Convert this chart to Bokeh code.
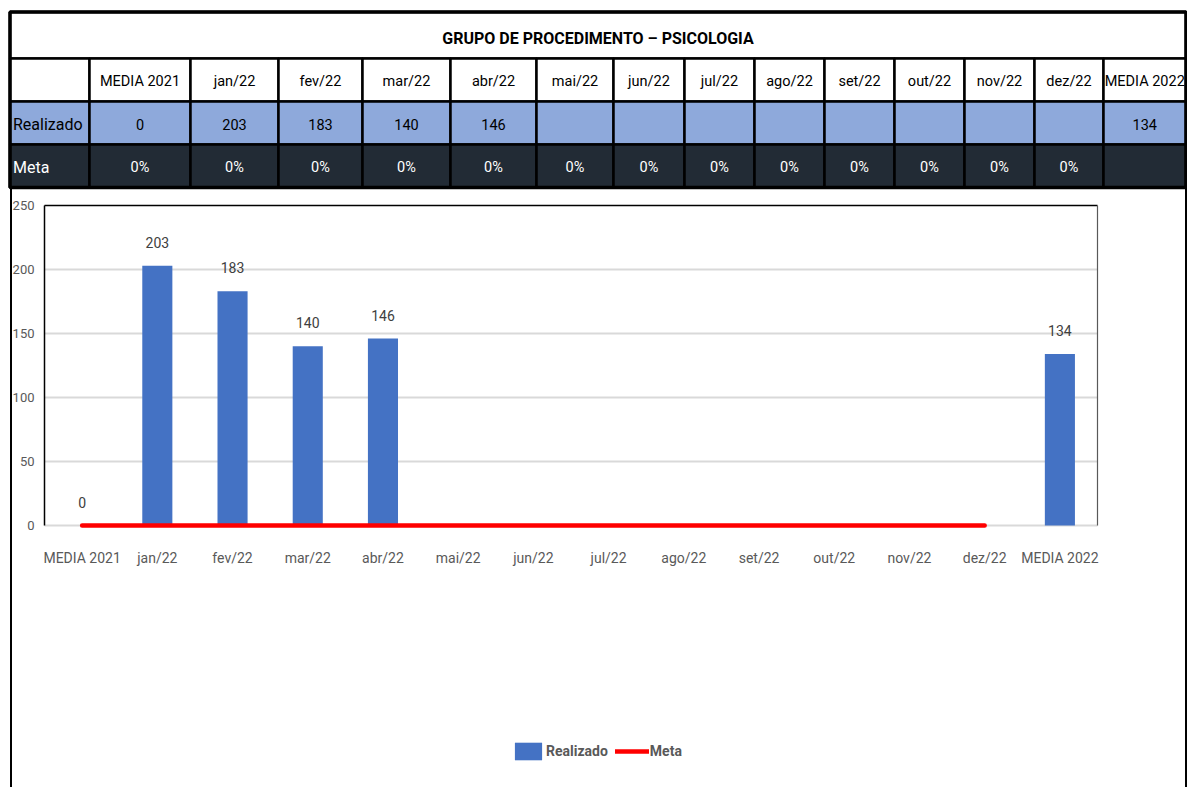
import numpy as np
from bokeh.plotting import figure
from bokeh.models import (ColumnDataSource, Range1d, FixedTicker, Legend, LegendItem, LinearAxis)
from bokeh.core.properties import value
from bokeh.embed import file_html
from bokeh.resources import INLINE

# ---------------- data ----------------
title_text = "GRUPO DE PROCEDIMENTO – PSICOLOGIA"
categories = ["MEDIA 2021", "jan/22", "fev/22", "mar/22", "abr/22", "mai/22", "jun/22",
              "jul/22", "ago/22", "set/22", "out/22", "nov/22", "dez/22", "MEDIA 2022"]
realizado = [0, 203, 183, 140, 146, None, None, None, None, None, None, None, None, 134]
meta = [0, 0, 0, 0, 0, 0, 0, 0, 0, 0, 0, 0, 0, None]
y_ticks = [0, 50, 100, 150, 200, 250]
series_names = ["Realizado", "Meta"]

# ---------------- layout / style ----------------
FONT = "Roboto"
W, H = 1187, 787          # canvas == reference pixels
BLUE = "#4472C4"
ROW_BLUE = "#8EA9DB"
ROW_DARK = "#222B35"
GREY_TXT = "#595959"

# chart plot-area in reference pixels
PA_LEFT, PA_RIGHT, PA_TOP, PA_BOTTOM = 44, 1097, 205, 525

n = len(categories)
xs = list(range(n))                     # category positions
ymax = y_ticks[-1]
cat_w = (PA_RIGHT - PA_LEFT) / n
x_start = -0.5 - PA_LEFT / cat_w
x_end = (n - 0.5) + (W - PA_RIGHT) / cat_w
ppu = (PA_BOTTOM - PA_TOP) / ymax
y_start = -(H - PA_BOTTOM) / ppu
y_end = ymax + PA_TOP / ppu

p = figure(width=W, height=H, x_range=Range1d(x_start, x_end), y_range=Range1d(y_start, y_end),
           output_backend="svg", toolbar_location=None, min_border=0,
           x_axis_location=None, y_axis_location=None, outline_line_color=None, title=None)
p.grid.visible = False
p.background_fill_color = "white"
p.border_fill_color = "white"
p.extra_x_ranges = {"px": Range1d(0, W)}
p.extra_y_ranges = {"py": Range1d(H, 0)}
PX = dict(x_range_name="px", y_range_name="py")

# ---------------- table ----------------
col_edges = [9.5, 89, 190, 278, 362, 450, 536, 613, 684, 754, 824, 894, 964, 1034, 1103, 1185.5]
row_edges = [11.5, 58, 101, 144, 187]

lefts = col_edges[:-1]
rights = col_edges[1:]
centers = [(a + b) / 2 for a, b in zip(lefts, rights)]
ncol = len(lefts)

header_txt = [""] + categories
real_txt = [series_names[0]] + ["" if v is None else str(v) for v in realizado]
meta_txt = [series_names[1]] + ["" if v is None else f"{v:.0%}" for v in meta]
rows = [(header_txt, "white", "black"), (real_txt, ROW_BLUE, "black"), (meta_txt, ROW_DARK, "white")]

TFS = "14.5px"
p.quad(left=[col_edges[0]], right=[col_edges[-1]], top=[row_edges[0]], bottom=[row_edges[1]],
       fill_color="white", line_color="black", line_width=2.5, **PX)
p.text(x=[(col_edges[0] + col_edges[-1]) / 2], y=[(row_edges[0] + row_edges[1]) / 2 + 3],
       text=[title_text], text_align="center", text_baseline="middle",
       text_font=value(FONT), text_font_style="bold", text_font_size="16px", text_color="black", **PX)

for r, (texts, fill, tcolor) in enumerate(rows):
    top = row_edges[r + 1]
    bot = row_edges[r + 2]
    p.quad(left=lefts, right=rights, top=[top] * ncol, bottom=[bot] * ncol,
           fill_color=fill, line_color="black", line_width=2.5, **PX)
    ymid = (top + bot) / 2 + 1
    p.text(x=[lefts[0] + 3], y=[ymid], text=[texts[0]], text_align="left", text_baseline="middle",
           text_font=value(FONT), text_font_size="16px", text_color=tcolor, **PX)
    p.text(x=centers[1:], y=[ymid] * (ncol - 1), text=texts[1:], text_align="center",
           text_baseline="middle", text_font=value(FONT), text_font_size=TFS, text_color=tcolor, **PX)

p.quad(left=[col_edges[0]], right=[col_edges[-1]], top=[row_edges[0]], bottom=[row_edges[-1]],
       fill_color=None, line_color="black", line_width=3.5, **PX)

# outer border of the chart area (below the table)
p.segment(x0=[10.5, 1185.5], x1=[10.5, 1185.5], y0=[row_edges[-1], row_edges[-1]], y1=[H, H],
          line_color="black", line_width=2, **PX)

# ---------------- chart ----------------
real_vals = [np.nan if v is None else v for v in realizado]
meta_vals = [np.nan if v is None else v for v in meta]
src = ColumnDataSource(dict(x=xs, real=real_vals, meta=meta_vals))

lab_x = [x for x, v in zip(xs, realizado) if v is not None]
lab_v = [v for v in realizado if v is not None]
lab_src = ColumnDataSource(dict(x=lab_x, y=lab_v, txt=[str(v) for v in lab_v]))

# gridlines and plot-area border
grid_y = y_ticks[:-1]
p.segment(x0=[-0.5] * len(grid_y), x1=[n - 0.5] * len(grid_y), y0=grid_y, y1=grid_y,
          line_color="#D9D9D9", line_width=2)
p.segment(x0=[-0.5], x1=[n - 0.5], y0=[ymax], y1=[ymax], line_color="black", line_width=1.5)
p.segment(x0=[n - 0.5], x1=[n - 0.5], y0=[0], y1=[ymax], line_color="#595959", line_width=1.2)

bars = p.vbar(x="x", top="real", bottom=0, width=0.4, source=src, fill_color=BLUE, line_color=None)
line = p.line(x="x", y="meta", source=src, line_color="#FF0000", line_width=4.5, line_cap="round")
p.text(x="x", y="y", text="txt", source=lab_src, text_align="center", text_baseline="bottom",
       y_offset=-18, text_font=value(FONT), text_font_size="14px", text_color="#404040")

yaxis = LinearAxis(fixed_location=-0.5, bounds=(0, ymax), ticker=FixedTicker(ticks=y_ticks),
                   major_tick_line_color=None, minor_tick_line_color=None,
                   major_tick_out=0, major_tick_in=0,
                   axis_line_color="black", axis_line_width=1.5,
                   major_label_text_font=FONT, major_label_text_font_size="13px",
                   major_label_text_color=GREY_TXT, major_label_standoff=10)
p.add_layout(yaxis, "left")

xaxis = LinearAxis(fixed_location=0, bounds=(-0.5, n - 0.5), ticker=FixedTicker(ticks=xs),
                   major_label_overrides={x: c for x, c in zip(xs, categories)},
                   major_tick_line_color=None, minor_tick_line_color=None,
                   major_tick_out=0, major_tick_in=0, axis_line_color=None,
                   major_label_text_font=FONT, major_label_text_font_size="14px",
                   major_label_text_color=GREY_TXT, major_label_standoff=24)
p.add_layout(xaxis, "below")

legend = Legend(items=[LegendItem(label=series_names[0], renderers=[bars]),
                       LegendItem(label=series_names[1], renderers=[line])],
                location=(511, H - 762), orientation="horizontal",
                glyph_width=34, glyph_height=22, label_standoff=1, spacing=7,
                padding=0, margin=0, border_line_color=None, background_fill_alpha=0,
                label_text_font=FONT, label_text_font_size="14px", label_text_font_style="bold",
                label_text_color=GREY_TXT, label_height=22)
p.add_layout(legend)

open("out.html", "w").write(file_html(p, INLINE))
